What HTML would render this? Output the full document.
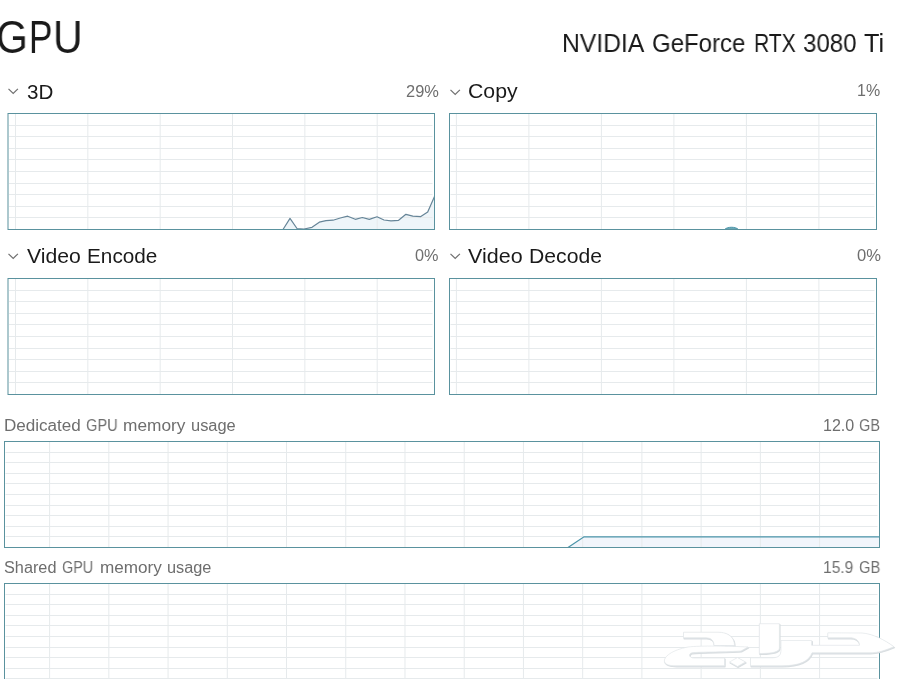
<!DOCTYPE html>
<html><head><meta charset="utf-8"><style>
html,body{margin:0;padding:0;background:#fff;width:900px;height:679px;overflow:hidden;position:relative}
body{font-family:"Liberation Sans",sans-serif;color:#1a1a1a}
.t{position:absolute;white-space:nowrap;line-height:1;will-change:transform}
.g{color:#6e6e6e}
.chev{position:absolute}
</style></head><body>
<svg width="900" height="679" style="position:absolute;left:0;top:0"><polygon points="283,229.5 290,218.4 297,228.5 304,229 312,227.3 319.3,222.2 326,220.7 333,220.2 340.3,218 347.7,216.2 355.3,219.3 362.3,217.5 369.3,219.4 377,216.8 384,220 391,220.8 398.6,220.3 405.9,214.3 412.8,216.1 420.8,216.6 427.7,212.1 434.5,196.5 434.5,229.5" fill="#eef5f9" stroke="none"/><g stroke="#e6eaec" stroke-width="1"><line x1="9" y1="125.50" x2="432.5" y2="125.50"/><line x1="9" y1="136.50" x2="432.5" y2="136.50"/><line x1="9" y1="148.50" x2="432.5" y2="148.50"/><line x1="9" y1="159.50" x2="432.5" y2="159.50"/><line x1="9" y1="171.50" x2="432.5" y2="171.50"/><line x1="9" y1="183.50" x2="432.5" y2="183.50"/><line x1="9" y1="194.50" x2="432.5" y2="194.50"/><line x1="9" y1="206.50" x2="432.5" y2="206.50"/><line x1="9" y1="217.50" x2="432.5" y2="217.50"/><line x1="15.50" y1="113.5" x2="15.50" y2="229.5"/><line x1="87.84" y1="113.5" x2="87.84" y2="229.5"/><line x1="160.18" y1="113.5" x2="160.18" y2="229.5"/><line x1="232.52" y1="113.5" x2="232.52" y2="229.5"/><line x1="304.86" y1="113.5" x2="304.86" y2="229.5"/><line x1="377.20" y1="113.5" x2="377.20" y2="229.5"/></g><polyline points="283,229.5 290,218.4 297,228.5 304,229 312,227.3 319.3,222.2 326,220.7 333,220.2 340.3,218 347.7,216.2 355.3,219.3 362.3,217.5 369.3,219.4 377,216.8 384,220 391,220.8 398.6,220.3 405.9,214.3 412.8,216.1 420.8,216.6 427.7,212.1 434.5,196.5" fill="none" stroke="#668598" stroke-width="1.2" stroke-linejoin="round"/><rect x="8" y="113.5" width="426.5" height="116.0" fill="none" stroke="#5a929e" stroke-width="1"/><g stroke="#e6eaec" stroke-width="1"><line x1="450.5" y1="125.50" x2="874.5" y2="125.50"/><line x1="450.5" y1="136.50" x2="874.5" y2="136.50"/><line x1="450.5" y1="148.50" x2="874.5" y2="148.50"/><line x1="450.5" y1="159.50" x2="874.5" y2="159.50"/><line x1="450.5" y1="171.50" x2="874.5" y2="171.50"/><line x1="450.5" y1="183.50" x2="874.5" y2="183.50"/><line x1="450.5" y1="194.50" x2="874.5" y2="194.50"/><line x1="450.5" y1="206.50" x2="874.5" y2="206.50"/><line x1="450.5" y1="217.50" x2="874.5" y2="217.50"/><line x1="456.40" y1="113.5" x2="456.40" y2="229.5"/><line x1="528.90" y1="113.5" x2="528.90" y2="229.5"/><line x1="601.40" y1="113.5" x2="601.40" y2="229.5"/><line x1="673.90" y1="113.5" x2="673.90" y2="229.5"/><line x1="746.40" y1="113.5" x2="746.40" y2="229.5"/><line x1="818.90" y1="113.5" x2="818.90" y2="229.5"/></g><path d="M724.5,229.5 C727.5,226.5 735.5,226.5 738.5,229.5 Z" fill="#6aa8b6" stroke="#4c95aa" stroke-width="1"/><rect x="449.5" y="113.5" width="427.0" height="116.0" fill="none" stroke="#5a929e" stroke-width="1"/><g stroke="#e6eaec" stroke-width="1"><line x1="9" y1="290.50" x2="432.5" y2="290.50"/><line x1="9" y1="301.50" x2="432.5" y2="301.50"/><line x1="9" y1="313.50" x2="432.5" y2="313.50"/><line x1="9" y1="324.50" x2="432.5" y2="324.50"/><line x1="9" y1="336.50" x2="432.5" y2="336.50"/><line x1="9" y1="348.50" x2="432.5" y2="348.50"/><line x1="9" y1="359.50" x2="432.5" y2="359.50"/><line x1="9" y1="371.50" x2="432.5" y2="371.50"/><line x1="9" y1="382.50" x2="432.5" y2="382.50"/><line x1="15.50" y1="278.5" x2="15.50" y2="394.5"/><line x1="87.84" y1="278.5" x2="87.84" y2="394.5"/><line x1="160.18" y1="278.5" x2="160.18" y2="394.5"/><line x1="232.52" y1="278.5" x2="232.52" y2="394.5"/><line x1="304.86" y1="278.5" x2="304.86" y2="394.5"/><line x1="377.20" y1="278.5" x2="377.20" y2="394.5"/></g><rect x="8" y="278.5" width="426.5" height="116.0" fill="none" stroke="#5a929e" stroke-width="1"/><g stroke="#e6eaec" stroke-width="1"><line x1="450.5" y1="290.50" x2="874.5" y2="290.50"/><line x1="450.5" y1="301.50" x2="874.5" y2="301.50"/><line x1="450.5" y1="313.50" x2="874.5" y2="313.50"/><line x1="450.5" y1="324.50" x2="874.5" y2="324.50"/><line x1="450.5" y1="336.50" x2="874.5" y2="336.50"/><line x1="450.5" y1="348.50" x2="874.5" y2="348.50"/><line x1="450.5" y1="359.50" x2="874.5" y2="359.50"/><line x1="450.5" y1="371.50" x2="874.5" y2="371.50"/><line x1="450.5" y1="382.50" x2="874.5" y2="382.50"/><line x1="456.40" y1="278.5" x2="456.40" y2="394.5"/><line x1="528.90" y1="278.5" x2="528.90" y2="394.5"/><line x1="601.40" y1="278.5" x2="601.40" y2="394.5"/><line x1="673.90" y1="278.5" x2="673.90" y2="394.5"/><line x1="746.40" y1="278.5" x2="746.40" y2="394.5"/><line x1="818.90" y1="278.5" x2="818.90" y2="394.5"/></g><rect x="449.5" y="278.5" width="427.0" height="116.0" fill="none" stroke="#5a929e" stroke-width="1"/><polygon points="568,547.5 584,536.8 879.5,536.8 879.5,547.5" fill="#f1f5fb"/><g stroke="#e6eaec" stroke-width="1"><line x1="5.5" y1="452.50" x2="877.5" y2="452.50"/><line x1="5.5" y1="462.50" x2="877.5" y2="462.50"/><line x1="5.5" y1="473.50" x2="877.5" y2="473.50"/><line x1="5.5" y1="483.50" x2="877.5" y2="483.50"/><line x1="5.5" y1="494.50" x2="877.5" y2="494.50"/><line x1="5.5" y1="505.50" x2="877.5" y2="505.50"/><line x1="5.5" y1="515.50" x2="877.5" y2="515.50"/><line x1="5.5" y1="526.50" x2="877.5" y2="526.50"/><line x1="5.5" y1="536.50" x2="877.5" y2="536.50"/><line x1="49.60" y1="441.5" x2="49.60" y2="547.5"/><line x1="108.83" y1="441.5" x2="108.83" y2="547.5"/><line x1="168.06" y1="441.5" x2="168.06" y2="547.5"/><line x1="227.29" y1="441.5" x2="227.29" y2="547.5"/><line x1="286.52" y1="441.5" x2="286.52" y2="547.5"/><line x1="345.75" y1="441.5" x2="345.75" y2="547.5"/><line x1="404.98" y1="441.5" x2="404.98" y2="547.5"/><line x1="464.21" y1="441.5" x2="464.21" y2="547.5"/><line x1="523.44" y1="441.5" x2="523.44" y2="547.5"/><line x1="582.67" y1="441.5" x2="582.67" y2="547.5"/><line x1="641.90" y1="441.5" x2="641.90" y2="547.5"/><line x1="701.13" y1="441.5" x2="701.13" y2="547.5"/><line x1="760.36" y1="441.5" x2="760.36" y2="547.5"/><line x1="819.59" y1="441.5" x2="819.59" y2="547.5"/></g><polyline points="568,547.5 584,536.8 879.5,536.8" fill="none" stroke="#4c95aa" stroke-width="1.3"/><rect x="4.5" y="441.5" width="875.0" height="106.0" fill="none" stroke="#5a929e" stroke-width="1"/><g stroke="#e6eaec" stroke-width="1"><line x1="5.5" y1="594.50" x2="877.5" y2="594.50"/><line x1="5.5" y1="604.50" x2="877.5" y2="604.50"/><line x1="5.5" y1="615.50" x2="877.5" y2="615.50"/><line x1="5.5" y1="625.50" x2="877.5" y2="625.50"/><line x1="5.5" y1="636.50" x2="877.5" y2="636.50"/><line x1="5.5" y1="647.50" x2="877.5" y2="647.50"/><line x1="5.5" y1="657.50" x2="877.5" y2="657.50"/><line x1="5.5" y1="668.50" x2="877.5" y2="668.50"/><line x1="5.5" y1="678.50" x2="877.5" y2="678.50"/><line x1="49.60" y1="583.5" x2="49.60" y2="689.5"/><line x1="108.83" y1="583.5" x2="108.83" y2="689.5"/><line x1="168.06" y1="583.5" x2="168.06" y2="689.5"/><line x1="227.29" y1="583.5" x2="227.29" y2="689.5"/><line x1="286.52" y1="583.5" x2="286.52" y2="689.5"/><line x1="345.75" y1="583.5" x2="345.75" y2="689.5"/><line x1="404.98" y1="583.5" x2="404.98" y2="689.5"/><line x1="464.21" y1="583.5" x2="464.21" y2="689.5"/><line x1="523.44" y1="583.5" x2="523.44" y2="689.5"/><line x1="582.67" y1="583.5" x2="582.67" y2="689.5"/><line x1="641.90" y1="583.5" x2="641.90" y2="689.5"/><line x1="701.13" y1="583.5" x2="701.13" y2="689.5"/><line x1="760.36" y1="583.5" x2="760.36" y2="689.5"/><line x1="819.59" y1="583.5" x2="819.59" y2="689.5"/></g><rect x="4.5" y="583.5" width="875.0" height="106.0" fill="none" stroke="#5a929e" stroke-width="1"/><g fill="#d9dee1" stroke="#d9dee1" stroke-width="1.2" stroke-linejoin="round" transform="translate(0.6,1)"><path d="M683.5,632.2 L718,632.2 C728,632.2 734.5,637 734.5,645.5 L714,645.5 C714,640.5 711,637.8 706,637.8 L683.5,637.8 Z"/>
<path d="M748,647 C730,646 700,645.5 688,647 C672,650 663,657 664.5,662 C666,665 670,665.8 676,665.8 L724.5,665.8 L724.5,658 L694,658 C689,658 688,654 692,652.8 C700,651.8 730,652 741,651 Z"/>
<path d="M729.5,662 L737.5,657.5 L745.5,662 L737.5,666.5 Z"/>
<path d="M759.3,623.7 L779.4,623.7 L779.4,648 C779.4,652 772,653.5 759.3,653.5 Z"/>
<path d="M781,640.5 L811.7,640.5 L811.7,645.3 L859.4,645.3 L859.4,644 C858.5,640 855,637.8 850,637.8 L827.8,637.8 L827.8,632.8 L862,633 C872,633.5 885,640 893.9,646.7 C885,650.5 878,652.8 870,652.8 L812,652.8 C809,661 800,665.8 782,665.8 L750.5,665.8 L750.5,657.8 L772,657.8 C779,657.8 781,655 781,650 Z"/>

</g><g fill="#ffffff" stroke="#e3e7ea" stroke-width="0.7" stroke-linejoin="round"><path d="M683.5,632.2 L718,632.2 C728,632.2 734.5,637 734.5,645.5 L714,645.5 C714,640.5 711,637.8 706,637.8 L683.5,637.8 Z"/>
<path d="M748,647 C730,646 700,645.5 688,647 C672,650 663,657 664.5,662 C666,665 670,665.8 676,665.8 L724.5,665.8 L724.5,658 L694,658 C689,658 688,654 692,652.8 C700,651.8 730,652 741,651 Z"/>
<path d="M729.5,662 L737.5,657.5 L745.5,662 L737.5,666.5 Z"/>
<path d="M759.3,623.7 L779.4,623.7 L779.4,648 C779.4,652 772,653.5 759.3,653.5 Z"/>
<path d="M781,640.5 L811.7,640.5 L811.7,645.3 L859.4,645.3 L859.4,644 C858.5,640 855,637.8 850,637.8 L827.8,637.8 L827.8,632.8 L862,633 C872,633.5 885,640 893.9,646.7 C885,650.5 878,652.8 870,652.8 L812,652.8 C809,661 800,665.8 782,665.8 L750.5,665.8 L750.5,657.8 L772,657.8 C779,657.8 781,655 781,650 Z"/>

</g></svg>
<div class="t" style="left:-4.05px;top:14.4px;font-size:46px;transform:scaleX(0.89);transform-origin:0 0">G</div>
<div class="t" style="left:29.1px;top:14.4px;font-size:46px;transform:scaleX(0.764);transform-origin:0 0">P</div>
<div class="t" style="left:52.84px;top:14.4px;font-size:46px;transform:scaleX(0.892);transform-origin:0 0">U</div>
<svg class="chev" style="left:7px;top:87px" width="12" height="8"><polyline points="1.5,1.8 6.2,6.5 10.9,1.8" fill="none" stroke="#707070" stroke-width="1.2"/></svg>
<svg class="chev" style="left:449px;top:88px" width="12" height="8"><polyline points="1.5,1.8 6.2,6.5 10.9,1.8" fill="none" stroke="#707070" stroke-width="1.2"/></svg>
<svg class="chev" style="left:7px;top:252px" width="12" height="8"><polyline points="1.5,1.8 6.2,6.5 10.9,1.8" fill="none" stroke="#707070" stroke-width="1.2"/></svg>
<svg class="chev" style="left:449px;top:252px" width="12" height="8"><polyline points="1.5,1.8 6.2,6.5 10.9,1.8" fill="none" stroke="#707070" stroke-width="1.2"/></svg>
<div class="t" style="left:562.13px;top:31.34px;font-size:25px;transform:scaleX(0.9865);transform-origin:0 0;">NVIDIA</div>
<div class="t" style="left:652.45px;top:31.34px;font-size:25px;transform:scaleX(0.9610);transform-origin:0 0;">GeForce</div>
<div class="t" style="left:753.93px;top:31.34px;font-size:25px;transform:scaleX(0.8443);transform-origin:0 0;">RTX</div>
<div class="t" style="left:803.24px;top:31.34px;font-size:25px;transform:scaleX(0.9627);transform-origin:0 0;">3080</div>
<div class="t" style="left:863.59px;top:31.34px;font-size:25px;transform:scaleX(1.0114);transform-origin:0 0;">Ti</div>
<div class="t" style="left:26.50px;top:81.55px;font-size:20.5px;transform:scaleX(1.0041);transform-origin:0 0;">3D</div>
<div class="t" style="left:467.66px;top:81.45px;font-size:20.5px;transform:scaleX(1.0363);transform-origin:0 0;">Copy</div>
<div class="t" style="left:26.90px;top:246.15px;font-size:20.5px;transform:scaleX(1.0352);transform-origin:0 0;">Video</div>
<div class="t" style="left:86.68px;top:246.15px;font-size:20.5px;transform:scaleX(1.0120);transform-origin:0 0;">Encode</div>
<div class="t" style="left:468.40px;top:246.05px;font-size:20.5px;transform:scaleX(1.0489);transform-origin:0 0;">Video</div>
<div class="t" style="left:529.25px;top:246.05px;font-size:20.5px;transform:scaleX(1.0323);transform-origin:0 0;">Decode</div>
<div class="t g" style="left:405.93px;top:83.56px;font-size:16px;transform:scaleX(1.0261);transform-origin:0 0;">29%</div>
<div class="t g" style="left:857.00px;top:83.46px;font-size:16px;transform:scaleX(1.0000);transform-origin:0 0;">1%</div>
<div class="t g" style="left:415.29px;top:248.26px;font-size:16px;transform:scaleX(1.0159);transform-origin:0 0;">0%</div>
<div class="t g" style="left:856.58px;top:248.36px;font-size:16px;transform:scaleX(1.0364);transform-origin:0 0;">0%</div>
<div class="t g" style="left:4.21px;top:418.16px;font-size:16px;transform:scaleX(1.0660);transform-origin:0 0;">Dedicated</div>
<div class="t g" style="left:86.07px;top:418.16px;font-size:16px;transform:scaleX(0.9172);transform-origin:0 0;">GPU</div>
<div class="t g" style="left:122.81px;top:418.16px;font-size:16px;transform:scaleX(1.0795);transform-origin:0 0;">memory</div>
<div class="t g" style="left:191.07px;top:418.16px;font-size:16px;transform:scaleX(1.0263);transform-origin:0 0;">usage</div>
<div class="t g" style="left:822.70px;top:418.16px;font-size:16px;transform:scaleX(1.0034);transform-origin:0 0;">12.0</div>
<div class="t g" style="left:859.27px;top:418.16px;font-size:16px;transform:scaleX(0.9065);transform-origin:0 0;">GB</div>
<div class="t g" style="left:822.73px;top:560.26px;font-size:16px;transform:scaleX(0.9725);transform-origin:0 0;">15.9</div>
<div class="t g" style="left:858.66px;top:560.26px;font-size:16px;transform:scaleX(0.9206);transform-origin:0 0;">GB</div>
<div class="t g" style="left:4.19px;top:560.16px;font-size:16px;transform:scaleX(1.0160);transform-origin:0 0;">Shared</div>
<div class="t g" style="left:62.28px;top:560.16px;font-size:16px;transform:scaleX(0.8988);transform-origin:0 0;">GPU</div>
<div class="t g" style="left:99.52px;top:560.16px;font-size:16px;transform:scaleX(1.0707);transform-origin:0 0;">memory</div>
<div class="t g" style="left:166.98px;top:560.16px;font-size:16px;transform:scaleX(1.0191);transform-origin:0 0;">usage</div>
</body></html>
